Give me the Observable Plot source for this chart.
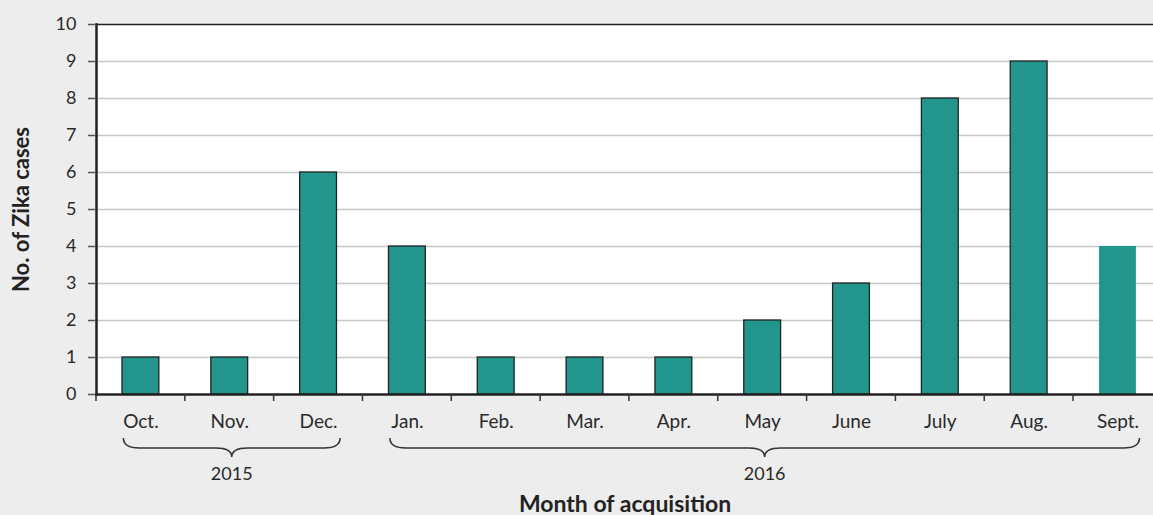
<!DOCTYPE html>
<html>
<head>
<meta charset="utf-8">
<script src="https://cdn.jsdelivr.net/npm/d3@7"></script>
<script src="https://cdn.jsdelivr.net/npm/@observablehq/plot@0.6"></script>
<style>
  html, body { margin: 0; padding: 0; background: #ededed; }
  #chart svg { display: block; }
</style>
</head>
<body>
<div id="chart"></div>
<script>
const months = ["Oct.", "Nov.", "Dec.", "Jan.", "Feb.", "Mar.", "Apr.", "May", "June", "July", "Aug.", "Sept."];
const cases = [1, 1, 6, 4, 1, 1, 1, 2, 3, 8, 9, 4];
const outlined = [true, true, true, true, true, true, true, true, true, true, true, false];
const years = ["2015", "2016"];
const yearFirst = ["Oct.", "Jan."];
const yearLast = ["Dec.", "Sept."];
const yTicks = [0, 1, 2, 3, 4, 5, 6, 7, 8, 9, 10];

const data = months.map((m, i) => ({month: m, cases: cases[i], outlined: outlined[i]}));
const yearData = years.map((y, i) => ({year: y, first: yearFirst[i], last: yearLast[i]}));

const FONT = "Lato, 'Open Sans', sans-serif";
const W = 1153, H = 515;
const mL = 96, mT = 24, mB = 121;
const band = (W - mL) / (months.length - 0.1); // right edge slightly beyond the window

function xDecor(yearRows) {
  return (index, scales, values, dimensions) => {
    const x = scales.x;
    const bw = x(months[1]) - x(months[0]);
    const y0 = dimensions.height - dimensions.marginBottom;
    const g = d3.create("svg:g");
    months.forEach(m => {
      g.append("line")
        .attr("x1", x(m)).attr("x2", x(m))
        .attr("y1", y0).attr("y2", y0 + 7)
        .attr("stroke", "#333").attr("stroke-width", 1.5);
    });
    const yTop = y0 + 44, yMid = y0 + 54, yTip = y0 + 63, r = 16;
    yearRows.forEach(d => {
      const a = x(d.first) + bw / 2 - 17;
      const b = x(d.last) + bw / 2 + 22;
      const c = (a + b) / 2;
      const p = `M${a},${yTop} Q${a},${yMid} ${a + r},${yMid} L${c - r},${yMid} Q${c},${yMid} ${c},${yTip} ` +
                `Q${c},${yMid} ${c + r},${yMid} L${b - r},${yMid} Q${b},${yMid} ${b},${yTop}`;
      g.append("path").attr("d", p).attr("fill", "none").attr("stroke", "#333").attr("stroke-width", 1.5);
      g.append("text").attr("x", c).attr("y", y0 + 80)
        .attr("dy", "0.35em").attr("text-anchor", "middle")
        .attr("font-family", FONT).attr("font-size", 18).attr("fill", "#2a2a2a")
        .text(d.year);
    });
    return g.node();
  };
}

const chart = Plot.plot({
  width: W,
  height: H,
  marginLeft: mL,
  marginTop: mT,
  marginBottom: mB,
  marginRight: 0,
  style: {background: "transparent", fontFamily: FONT, fontSize: "18px", color: "#2a2a2a", overflow: "visible"},
  x: {domain: months, range: [mL, mL + band * months.length], padding: 0, round: false, label: null},
  y: {domain: [0, 10], label: null},
  marks: [
    Plot.frame({fill: "white", stroke: null}),
    Plot.gridY(yTicks.filter(t => t > 0 && t < 10), {stroke: "#c8c8c8", strokeOpacity: 1, strokeWidth: 1.5}),
    Plot.barY(data, {x: "month", y: "cases", fill: "#22968c", stroke: d => d.outlined ? "#222" : "none", strokeWidth: 1.3, insetLeft: 26, insetRight: 26}),
    Plot.frame({anchor: "top", stroke: "#222", strokeWidth: 1.5}),
    Plot.frame({anchor: "bottom", stroke: "#222", strokeWidth: 2.5}),
    Plot.frame({anchor: "left", stroke: "#222", strokeWidth: 2.5}),
    Plot.axisY({ticks: yTicks, tickSize: 8, tickPadding: 12, stroke: "#555", strokeWidth: 1.5, fontSize: 18, fill: "#2a2a2a", label: null}),
    Plot.axisX({tickSize: 0, tickPadding: 20, fontSize: 19, fill: "#2a2a2a", label: null}),
    xDecor(yearData),
    Plot.text(["No. of Zika cases"], {frameAnchor: "left", dx: -75, rotate: -90, textAnchor: "middle", lineAnchor: "middle", fontWeight: "bold", fontSize: 22, fill: "#222"}),
    Plot.text(["Month of acquisition"], {frameAnchor: "bottom", dy: 110, lineAnchor: "middle", fontWeight: "bold", fontSize: 23, fill: "#222"})
  ]
});
document.getElementById("chart").appendChild(chart);
</script>
</body>
</html>
